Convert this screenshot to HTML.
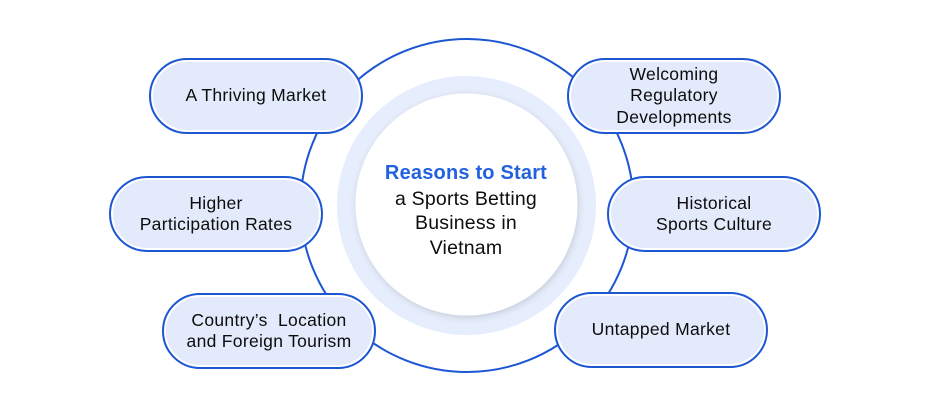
<!DOCTYPE html>
<html>
<head>
<meta charset="utf-8">
<style>
  html,body{margin:0;padding:0;background:#fff;}
  body{width:930px;height:415px;position:relative;overflow:hidden;font-family:"Liberation Sans",Arial,sans-serif;}
  svg{position:absolute;left:0;top:0;}
  .pill{position:absolute;width:214px;height:76px;box-sizing:border-box;border:2px solid #1c56d2;border-radius:38px;background:#e2eafb;box-shadow:inset 0 0 0 2px #fff;display:flex;align-items:center;justify-content:center;text-align:center;color:#0d0d0d;font-size:17.5px;line-height:21.5px;letter-spacing:0.3px;}
  .center{position:absolute;left:346px;top:161px;width:240px;text-align:center;font-size:19.5px;line-height:24.5px;color:#0d0d0d;letter-spacing:0.2px;}
  .center b{color:#2262df;font-weight:bold;font-size:20px;display:inline-block;margin-bottom:1px;}
</style>
</head>
<body>
<svg width="930" height="415" viewBox="0 0 930 415">
  <defs>
    <filter id="sh" x="-20%" y="-20%" width="140%" height="140%">
      <feDropShadow dx="1" dy="2" stdDeviation="3.5" flood-color="#000" flood-opacity="0.14"/>
    </filter>
  </defs>
  <circle cx="467" cy="205.5" r="166.5" fill="none" stroke="#1d56d3" stroke-width="2"/>
  <circle cx="466.5" cy="205.5" r="129.5" fill="#e6edfc"/>
  <circle cx="466.5" cy="204.5" r="111" fill="#fff" filter="url(#sh)"/>
</svg>

<div class="pill" style="left:149px;top:58px;">A Thriving Market</div>
<div class="pill" style="left:567px;top:58px;">Welcoming<br>Regulatory<br>Developments</div>
<div class="pill" style="left:109px;top:176px;">Higher<br>Participation Rates</div>
<div class="pill" style="left:607px;top:176px;">Historical<br>Sports Culture</div>
<div class="pill" style="left:162px;top:293px;">Country’s&nbsp; Location<br>and Foreign Tourism</div>
<div class="pill" style="left:554px;top:292px;">Untapped Market</div>

<div class="center"><b>Reasons to Start</b><br>a Sports Betting<br>Business in<br>Vietnam</div>
</body>
</html>
